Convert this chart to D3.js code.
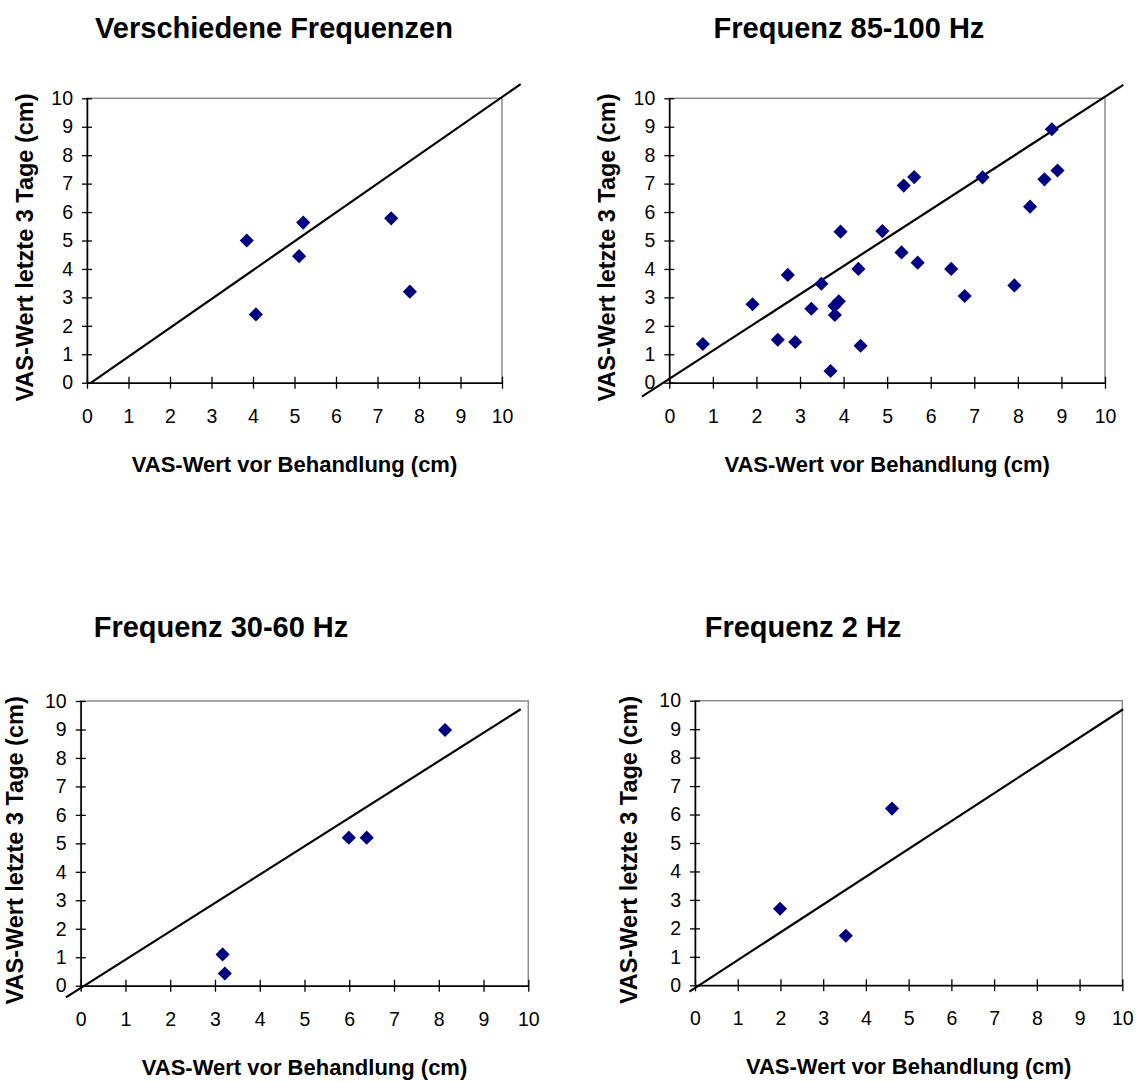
<!DOCTYPE html>
<html>
<head>
<meta charset="utf-8">
<script src="https://cdn.jsdelivr.net/npm/d3@7"></script>
<style>
  html, body { margin: 0; padding: 0; background: #fff; }
  svg { display: block; font-family: "Liberation Sans", Arial, Helvetica, sans-serif; }
</style>
</head>
<body>
<svg id="chart" width="1144" height="1082"></svg>
<script>
// Panel titles and shared axis titles
const titles = ["Verschiedene Frequenzen", "Frequenz 85-100 Hz", "Frequenz 30-60 Hz", "Frequenz 2 Hz"];
const xTitle = "VAS-Wert vor Behandlung (cm)";
const yTitle = "VAS-Wert letzte 3 Tage (cm)";
const tickValues = [0, 1, 2, 3, 4, 5, 6, 7, 8, 9, 10];

// VAS before treatment (x) and VAS of the last 3 days (y), per frequency group
const mixedX = [3.85, 4.07, 5.11, 5.21, 7.33, 7.78];
const mixedY = [5.00, 2.40, 4.45, 5.63, 5.78, 3.20];

const hz85X = [0.77, 1.91, 2.49, 2.72, 2.89, 3.26, 3.49, 3.70, 3.80, 3.79, 3.89, 3.93, 4.34, 4.39,
               4.89, 5.33, 5.38, 5.62, 5.70, 6.47, 6.78, 7.19, 7.92, 8.28, 8.61, 8.78, 8.91];
const hz85Y = [1.36, 2.76, 1.51, 3.79, 1.43, 2.60, 3.48, 0.41, 2.38, 2.70, 2.86, 5.31, 4.00, 1.30,
               5.33, 4.58, 6.93, 7.23, 4.22, 4.00, 3.05, 7.22, 3.42, 6.19, 7.15, 8.91, 7.46];

const hz30X = [3.17, 3.22, 5.99, 6.39, 8.14];
const hz30Y = [1.10, 0.43, 5.20, 5.20, 8.98];

const hz2X = [1.99, 3.53, 4.61];
const hz2Y = [2.69, 1.74, 6.21];

// Trend line end points [x, y] for each group
const mixedLine = [[0.10, 0.00], [10.45, 10.50]];
const hz85Line = [[-0.63, -0.49], [10.42, 10.47]];
const hz30Line = [[-0.33, -0.41], [9.83, 9.71]];
const hz2Line = [[-0.13, -0.22], [10.02, 9.70]];

const seriesX = [mixedX, hz85X, hz30X, hz2X];
const seriesY = [mixedY, hz85Y, hz30Y, hz2Y];
const trendLines = [mixedLine, hz85Line, hz30Line, hz2Line];

// Layout of the four plot boxes and their titles
const boxes = [
  { left: 87, right: 502, top: 98.3, bottom: 382.7, titleX: 274, titleY: 37.7, yTitleX: 33 },
  { left: 669.3, right: 1105, top: 98.3, bottom: 382.7, titleX: 849, titleY: 37.7, yTitleX: 615 },
  { left: 80.7, right: 528.3, top: 701, bottom: 985.7, titleX: 221, titleY: 637, yTitleX: 22.7 },
  { left: 695, right: 1122.3, top: 700.7, bottom: 985.3, titleX: 803, titleY: 637, yTitleX: 637 }
];

const svg = d3.select("#chart");
const diamond = d3.symbol().type(d3.symbolSquare).size(100);

boxes.forEach((b, i) => {
  const x = d3.scaleLinear().domain([0, 10]).range([b.left, b.right]);
  const y = d3.scaleLinear().domain([0, 10]).range([b.bottom, b.top]);
  const g = svg.append("g");

  // Plot area frame (grey)
  g.append("rect")
    .attr("x", b.left).attr("y", b.top)
    .attr("width", b.right - b.left).attr("height", b.bottom - b.top)
    .attr("fill", "none").attr("stroke", "#8c8c8c").attr("stroke-width", 1.5);

  // Y axis with crossing ticks
  const ya = g.append("g")
    .attr("transform", `translate(${b.left},0)`)
    .call(d3.axisLeft(y).tickValues(tickValues).tickSize(0).tickPadding(14).tickFormat(d3.format("d")));
  ya.selectAll(".tick line").attr("x1", 5).attr("x2", -5).attr("stroke", "#000").attr("stroke-width", 1.3);
  ya.select(".domain").attr("stroke", "#000").attr("stroke-width", 1.5);
  ya.selectAll(".tick text").attr("font-size", 19.5).attr("fill", "#000")
    .attr("font-family", "'Liberation Sans', Arial, sans-serif");

  // X axis with crossing ticks
  const xa = g.append("g")
    .attr("transform", `translate(0,${b.bottom})`)
    .call(d3.axisBottom(x).tickValues(tickValues).tickSize(0).tickPadding(26).tickFormat(d3.format("d")));
  xa.selectAll(".tick line").attr("y1", -6).attr("y2", 6).attr("stroke", "#000").attr("stroke-width", 1.3);
  xa.select(".domain").attr("stroke", "#000").attr("stroke-width", 1.5);
  xa.selectAll(".tick text").attr("font-size", 19.5).attr("fill", "#000")
    .attr("font-family", "'Liberation Sans', Arial, sans-serif");

  // Trend line
  g.append("path")
    .datum(trendLines[i])
    .attr("d", d3.line().x(d => x(d[0])).y(d => y(d[1])))
    .attr("fill", "none").attr("stroke", "#000").attr("stroke-width", 2.2);

  // Data points as diamonds
  const pts = seriesX[i].map((v, k) => [v, seriesY[i][k]]);
  g.selectAll("path.pt")
    .data(pts)
    .join("path")
    .attr("class", "pt")
    .attr("d", diamond)
    .attr("transform", d => `translate(${x(d[0])},${y(d[1])}) rotate(45)`)
    .attr("fill", "#000080");

  // Panel title
  g.append("text")
    .attr("x", b.titleX).attr("y", b.titleY)
    .attr("text-anchor", "middle")
    .attr("font-size", 29).attr("font-weight", "bold")
    .text(titles[i]);

  // X axis title
  g.append("text")
    .attr("x", (b.left + b.right) / 2).attr("y", b.bottom + 89)
    .attr("text-anchor", "middle")
    .attr("font-size", 22).attr("font-weight", "bold")
    .text(xTitle);

  // Y axis title
  const cy = (b.top + b.bottom) / 2 + 7;
  g.append("text")
    .attr("transform", `translate(${b.yTitleX},${cy}) rotate(-90)`)
    .attr("text-anchor", "middle")
    .attr("font-size", 23.5).attr("font-weight", "bold")
    .text(yTitle);
});
</script>
</body>
</html>
